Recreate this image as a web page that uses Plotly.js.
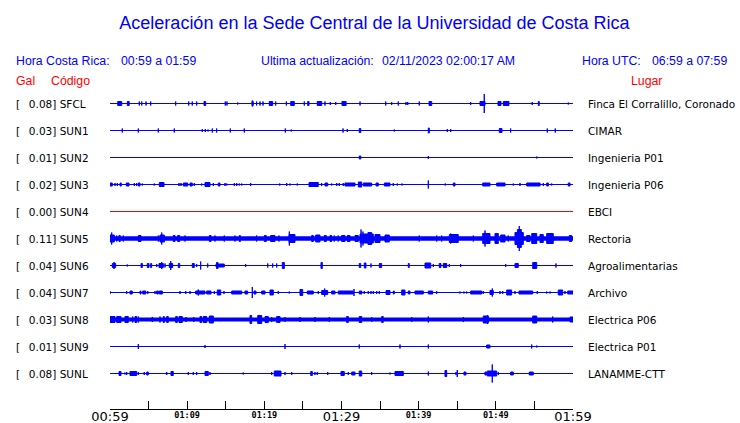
<!DOCTYPE html>
<html><head><meta charset="utf-8">
<script src="https://cdn.plot.ly/plotly-3.0.1.min.js"></script>
<style>html,body{margin:0;padding:0;background:#fff}#chart{width:740px;height:423px}</style>
</head><body><div id="chart"></div>
<script>
// ---------------- DATA ----------------
const stations = ["SFCL","SUN1","SUN2","SUN3","SUN4","SUN5","SUN6","SUN7","SUN8","SUN9","SUNL"];
const galValues = [0.08,0.03,0.01,0.02,0.00,0.11,0.04,0.04,0.03,0.01,0.08];
const places = ["Finca El Corralillo, Coronado","CIMAR","Ingenieria P01","Ingenieria P06","EBCI","Rectoria","Agroalimentarias","Archivo","Electrica P06","Electrica P01","LANAMME-CTT"];
// minutes after 00:59
const tickMinutes = [0,5,10,15,20,25,30,35,40,45,50,55,60];
const majorLabels = ["00:59","","","","","","01:29","","","","","","01:59"];
const minorTickMinutes = [10,20,40,50];
const minorLabels = ["01:09","01:19","01:39","01:49"];
const titleText = "Aceleración en la Sede Central de la Universidad de Costa Rica";
const horaCR = "00:59 a 01:59";
const ultima = "02/11/2023 02:00:17 AM";
const horaUTC = "06:59 a 07:59";

// burst events per station: [start minute, end minute, half amplitude]
const evSFCL = [[1.0,1.52,2],[2.24,2.49,2],[3.8,3.8,2],[4.11,4.11,2],[4.67,4.67,2],[5.27,5.27,2],[8.51,8.51,2],[10.2,10.2,2],[10.66,10.66,2],[11.23,11.23,2],[12.18,12.4,2],[14.94,14.94,2],[15.16,15.16,2],[16.55,16.55,1],[18.4,18.57,2],[18.45,18.45,3],[19.0,19.0,2],[19.44,19.44,2],[19.83,19.83,2],[20.64,21.08,2],[21.47,21.47,2],[22.85,22.85,2],[23.42,23.88,2],[25.18,25.18,2],[25.62,25.79,2],[26.86,27.43,2],[27.86,27.86,2],[28.55,28.55,1.5],[29.25,29.25,1.5],[30.06,30.6,2],[32.4,32.4,2],[35.73,35.73,2],[36.5,36.5,1.5],[37.36,37.36,2],[38.36,38.36,1.5],[38.58,38.58,1.5],[40.08,40.08,2],[41.34,41.69,2],[46.74,46.74,1.5],[47.95,48.6,2],[48.5,48.5,9.5],[50.28,50.67,2],[50.97,51.7,2],[54.72,54.72,1.5],[55.5,55.63,2],[59.39,59.39,1]];
const evSUN1 = [[1.59,1.59,2],[3.67,3.67,2],[6.26,6.26,2],[8.33,8.33,2],[11.96,11.96,1.5],[12.35,12.35,1.5],[12.7,12.7,1],[13.26,13.26,2],[13.82,13.82,2],[15.59,15.59,2],[17.4,17.4,2],[22.72,22.72,2],[23.49,23.49,1],[30.2,30.2,2],[30.75,30.75,1.5],[32.3,32.5,2],[36.84,36.84,1],[41.25,41.38,2.5],[43.71,43.71,1.5],[44.15,44.15,1.5],[50.45,50.8,2],[51.92,51.92,2],[56.67,56.67,2],[57.7,57.7,2]];
const evSUN2 = [[32.3,32.5,1.5],[41.25,41.25,1.5],[55.3,55.3,1]];
const evSUN3 = [[0,0.3,1.5],[0.65,0.65,1.5],[0.95,0.95,1.5],[1.3,1.46,1.5],[2.11,2.46,1.5],[3.15,3.15,1.5],[3.46,3.46,1.5],[3.67,3.89,1.5],[4.19,4.19,1],[5.74,5.74,1],[6.39,7.0,2],[8.94,8.94,1.5],[9.2,9.2,1.5],[9.5,10.07,1.5],[10.37,10.66,1.5],[10.92,10.92,1.5],[11.88,11.88,1],[12.31,12.96,2],[13.39,13.39,1.5],[14.03,14.25,1.5],[14.9,14.9,1.5],[15.12,15.12,1],[16.11,16.11,1.5],[16.42,16.42,1.5],[16.76,16.76,1],[17.07,17.07,1],[18.23,18.23,1.5],[21.99,21.99,1],[22.9,22.9,1.5],[23.33,23.33,1],[24.27,24.27,1],[25.79,26.99,2],[27.43,27.43,1.5],[27.86,28.21,1.5],[28.73,28.73,1],[29.38,29.38,1.5],[29.71,29.71,1.5],[30.23,30.23,1.5],[30.45,31.75,1.5],[32.18,32.62,2.5],[32.83,33.91,1.5],[34.47,34.77,1.5],[35.55,36.28,1.5],[36.71,36.71,1.5],[37.23,37.23,1],[37.84,37.84,1],[41.25,41.25,4],[43.45,43.45,1],[44.49,44.71,1.5],[48.3,49.24,1.5],[50.11,51.19,1.5],[52.26,52.26,1],[53.13,53.13,1.5],[54.0,55.73,1.5],[56.15,56.15,1.5],[56.59,56.8,1.5],[57.24,57.24,1],[59.39,59.61,1.5]];
const evSUN4 = [];
const evSUN5 = [[0,0.56,3.5],[0.22,0.22,6],[0.87,0.87,3],[1.17,1.33,3],[1.72,1.72,3],[3.67,4.02,3],[6.26,6.26,3],[6.48,7.04,3.5],[6.7,6.7,6],[8.2,8.42,3],[8.77,9.03,3],[9.72,9.72,3],[12.87,13.09,3],[13.61,13.61,3],[14.81,14.81,3],[16.2,16.2,3],[16.76,16.89,3],[19.0,19.0,3],[20.0,20.25,3],[20.82,21.38,3],[21.9,21.9,3],[23.2,23.97,4],[23.24,23.24,7],[26.14,26.35,3],[26.66,27.21,3.5],[27.77,28.03,3],[28.51,28.73,3],[29.07,29.07,3],[29.58,29.58,3],[30.02,30.45,3],[30.75,31.1,3],[31.75,32.18,3],[32.4,34.12,4.5],[32.53,32.53,9],[32.78,32.78,7],[33.43,33.91,6],[34.34,34.99,4],[35.64,36.19,3.5],[40.08,40.08,3],[42.33,42.33,3],[42.98,42.98,3],[43.97,45.13,4],[44.15,44.15,5],[47.08,47.08,3],[48.3,49.24,5],[48.6,48.6,8],[49.89,50.32,5],[50.63,51.19,3.5],[51.61,51.61,3],[52.48,53.56,6],[52.8,53.3,9],[53.04,53.04,12.5],[54.0,54.43,3],[54.65,55.3,5],[55.72,56.15,4],[56.59,57.44,5],[59.52,59.83,3]];
const evSUN6 = [[0.3,0.74,2],[0.52,0.52,3.5],[2.24,2.24,1],[4.02,4.19,2],[4.83,5.05,2],[5.27,5.4,2],[6.05,6.05,1.5],[6.35,6.91,2],[6.7,6.7,3.5],[7.13,7.13,2],[7.68,8.12,2],[7.87,7.87,4.5],[8.85,9.03,2],[10.66,10.92,2],[11.23,11.23,1.5],[11.75,11.75,4],[12.66,12.66,2],[13.74,14.81,1.5],[13.8,14.0,3],[17.58,17.58,1.5],[20.44,20.44,2],[21.08,21.08,2],[21.6,21.6,2],[22.33,22.59,3],[27.34,27.51,3],[32.3,32.49,2],[32.95,33.17,2.5],[33.82,33.82,2],[34.9,35.2,2],[38.65,38.78,2],[40.82,41.56,2.5],[41.9,41.9,1.5],[42.67,42.89,2],[43.19,43.63,2],[43.97,43.97,1.5],[45.44,45.44,1.5],[51.28,51.28,1.5],[52.48,52.91,2],[54.78,55.3,3],[57.79,57.79,2]];
const evSUN7 = [[0,0,1.5],[2.16,2.16,1.5],[2.59,2.89,1.5],[3.89,4.02,1.5],[4.24,4.63,1.5],[4.89,4.89,1.5],[5.83,5.83,1.5],[6.05,6.26,1.5],[6.39,6.78,1.5],[9.07,9.07,1.5],[9.81,9.81,1.5],[10.37,10.37,1.5],[11.1,12.31,1.5],[11.44,11.44,3],[12.53,13.09,1.5],[13.52,13.52,1.5],[13.9,14.35,2.5],[14.77,14.77,1.5],[15.77,17.07,1.5],[17.49,17.84,1.5],[18.44,18.44,5.5],[18.66,18.92,1.5],[19.66,20.09,1.5],[20.73,21.16,2.5],[21.81,21.81,1.5],[23.23,23.23,1],[24.62,24.97,3],[25.57,26.34,1.5],[26.99,26.99,1.5],[27.43,28.21,2],[27.82,27.82,4],[28.73,29.16,1.5],[29.58,31.5,1.5],[31.62,31.62,3.5],[32.3,32.62,1.5],[32.95,32.95,1.5],[33.47,33.47,1.5],[33.82,33.82,1.5],[34.12,34.12,1.5],[34.56,34.56,1.5],[34.9,34.9,1.5],[35.77,36.28,2],[36.71,36.84,1.5],[37.8,38.23,2.5],[38.65,38.87,1.5],[39.52,40.6,1.5],[41.25,41.82,1.5],[42.33,42.33,1.5],[45.35,45.35,1],[45.87,45.87,1],[46.22,46.22,1],[46.74,48.17,1.5],[48.37,48.37,1.5],[49.24,49.67,2],[49.54,49.54,4],[50.54,50.54,1.5],[50.89,50.89,1.5],[51.41,52.05,2.5],[52.48,52.48,1.5],[53.0,54.78,1.5],[55.37,55.37,1.5],[56.59,56.59,1],[57.02,57.02,1],[58.09,58.66,2.5],[58.96,58.96,1.5],[59.31,60,1.5]];
const evSUN8 = [[0,0.65,3],[0.87,1.43,3],[1.94,2.37,3],[2.94,2.94,3],[3.24,3.46,3],[3.67,3.67,3],[5.48,5.48,2.5],[6.48,6.48,3],[6.91,7.04,3],[7.35,7.55,3],[8.51,8.72,3],[8.94,9.37,3],[9.85,9.85,2.5],[10.85,10.85,2.5],[11.66,11.88,3],[12.09,12.53,3],[12.87,13.39,3.5],[18.14,18.36,4],[19.14,19.66,4],[20.09,20.51,3],[20.95,20.95,2.5],[21.6,22.03,3],[22.68,22.68,2.5],[24.62,24.62,2.5],[26.56,26.56,2.5],[28.42,28.42,2.5],[30.67,30.88,3],[32.3,32.62,3],[33.91,33.91,2.5],[35.21,35.41,3],[39.1,39.1,2.5],[41.25,41.25,3],[45.78,45.78,2.5],[48.37,49.02,3.5],[48.94,48.94,4.5],[54.78,55.3,3.5],[57.37,57.37,3],[59.61,60,2.5]];
const evSUN9 = [[3.67,3.67,2.5],[12.31,12.31,1.5],[22.68,22.68,2.5],[32.3,32.3,2],[37.58,37.58,2],[41.25,41.25,2],[48.81,49.24,1.5],[54.65,54.65,2],[55.3,55.3,1]];
const evSUNL = [[1.17,1.43,2],[1.94,1.94,1],[2.16,2.16,1.5],[2.59,3.46,2],[3.67,3.67,1.5],[4.44,4.44,1.5],[4.76,4.96,1.5],[7.35,7.35,1.5],[7.9,8.2,2],[10.15,10.15,1.5],[10.79,10.79,1.5],[11.23,11.23,1.5],[12.31,12.74,2],[12.96,12.96,1.5],[17.27,17.27,1],[20.95,20.95,1.5],[21.29,22.16,2.5],[22.68,22.68,1.5],[23.55,23.55,1.5],[26.01,26.22,2],[26.56,26.56,1.5],[26.86,26.86,1.5],[28.21,28.21,1.5],[29.93,30.36,2],[30.88,30.88,1.5],[31.32,31.75,1.5],[32.3,32.62,2.5],[33.91,33.91,1.5],[36.28,36.28,1],[36.93,38.01,2],[41.25,41.25,2],[43.41,43.63,3],[44.84,44.84,1.5],[45.0,45.0,3.5],[45.87,46.13,1.5],[48.59,48.81,1.5],[48.89,50.11,2.5],[49.54,49.54,9],[50.32,50.32,1.5],[51.92,52.26,1.5],[54.33,54.85,1.5]];
const events = [evSFCL,evSUN1,evSUN2,evSUN3,evSUN4,evSUN5,evSUN6,evSUN7,evSUN8,evSUN9,evSUNL];

// ---------------- STYLE / LAYOUT ----------------
const BLUE = "#0000ff", RED = "#ff0000";
const traceColor = {SUN4: RED};
const bandWidth = {SUN5: 4.5, SUN8: 4};
const PX_L = 110, PX_R = 573, PX_T = 90, PX_B = 409, FIRST = 103.5, SLOT = 27;
const px2x = p => (p - PX_L) / (PX_R - PX_L);
const py2y = p => (PX_B - p) / (PX_B - PX_T);
const yTop = -(FIRST - PX_T) / SLOT;
const yBot = (stations.length - 1) + (PX_B - (FIRST + (stations.length - 1) * SLOT)) / SLOT;

const traces = [];
stations.forEach((s, i) => {
  const col = traceColor[s] || BLUE;
  traces.push({x: [tickMinutes[0], tickMinutes[tickMinutes.length - 1]], y: [i, i], mode: 'lines',
    line: {color: col, width: bandWidth[s] || 1}, hoverinfo: 'skip', showlegend: false});
  const xs = [], ys = [];
  events[i].forEach(([a, b, h]) => {
    const d = h / SLOT;
    xs.push(a, b, b, a, a, null);
    ys.push(i - d, i - d, i + d, i + d, i - d, null);
  });
  if (xs.length) traces.push({x: xs, y: ys, mode: 'lines', fill: 'toself', fillcolor: col,
    line: {color: col, width: 1}, hoverinfo: 'skip', showlegend: false});
});
traces.push({x: [0], y: [0], xaxis: 'x2', mode: 'markers', marker: {opacity: 0}, hoverinfo: 'skip', showlegend: false});

const ann = [];
const hdr = (text, px, py, color, size, family) => ann.push({text, x: px2x(px), y: py2y(py), xref: 'paper', yref: 'paper',
  xanchor: 'left', yanchor: 'middle', showarrow: false, borderpad: 0,
  font: {family: family || 'Liberation Sans, Arial, sans-serif', size: size || 12.3, color}});
hdr("Hora Costa Rica:", 15, 61, BLUE);
hdr(horaCR, 120, 61, BLUE);
hdr("Ultima actualización:", 260, 61, BLUE);
hdr(ultima, 380.5, 61, BLUE);
hdr("Hora UTC:", 580.5, 61, BLUE);
hdr(horaUTC, 650.5, 61, BLUE);
hdr("Gal", 15, 81, RED);
hdr("Código", 50, 81, RED);
hdr("Lugar", 630, 81, RED);

stations.forEach((s, i) => {
  ann.push({text: "[\u00a0\u00a0\u2009" + galValues[i].toFixed(2) + "] " + s, x: px2x(15), y: i, xref: 'paper', yref: 'y',
    xanchor: 'left', yanchor: 'middle', showarrow: false, borderpad: 0,
    font: {family: 'DejaVu Sans', size: 10.5, color: '#000'}});
  ann.push({text: places[i], x: px2x(587), y: i, xref: 'paper', yref: 'y',
    xanchor: 'left', yanchor: 'middle', showarrow: false, borderpad: 0,
    font: {family: 'DejaVu Sans', size: 10.5, color: '#000'}});
});

const layout = {
  width: 740, height: 423,
  margin: {l: PX_L, r: 740 - PX_R, t: PX_T, b: 423 - PX_B, pad: 0},
  paper_bgcolor: '#fff', plot_bgcolor: '#fff', showlegend: false,
  title: {text: titleText, x: 374.5 / 740, xref: 'container', xanchor: 'center',
    y: 1 - 22.7 / 423, yref: 'container', yanchor: 'middle',
    font: {family: 'Liberation Sans, Arial, sans-serif', size: 18, color: BLUE}},
  xaxis: {range: [0, 60], tickmode: 'array', tickvals: tickMinutes, ticktext: majorLabels,
    ticks: 'inside', ticklen: 8, tickwidth: 1, tickcolor: '#000', showline: true, linecolor: '#000', linewidth: 1,
    showgrid: false, zeroline: false, fixedrange: true, ticklabelstandoff: -5,
    tickfont: {family: 'DejaVu Sans', size: 13, color: '#000'}},
  xaxis2: {range: [0, 60], overlaying: 'x', anchor: 'y', side: 'bottom', tickmode: 'array',
    tickvals: minorTickMinutes, ticktext: minorLabels, ticks: '', showline: false, showgrid: false, zeroline: false,
    fixedrange: true, ticklabelstandoff: -1,
    tickfont: {family: 'DejaVu Sans Mono', size: 8.5, color: '#000', weight: 'bold'}},
  yaxis: {range: [yBot, yTop], visible: false, fixedrange: true},
  annotations: ann
};
Plotly.newPlot('chart', traces, layout, {staticPlot: true, displayModeBar: false});
</script></body></html>
